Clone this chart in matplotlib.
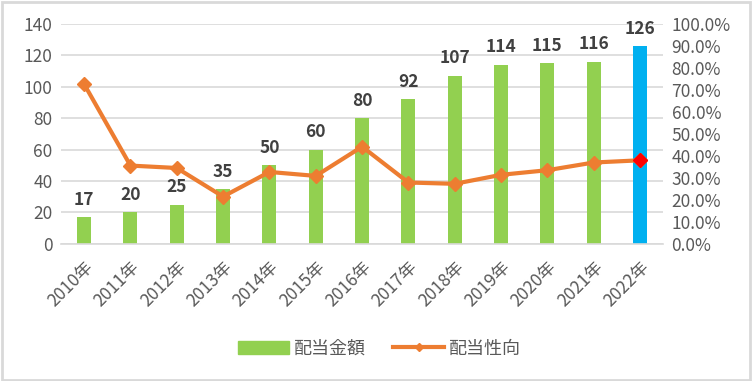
import numpy as np
import matplotlib.pyplot as plt
from matplotlib.lines import Line2D
from matplotlib.patches import Patch

plt.rcParams['font.family'] = ['Noto Sans CJK JP', 'DejaVu Sans']

# データ
years = ["2010年", "2011年", "2012年", "2013年", "2014年", "2015年", "2016年",
         "2017年", "2018年", "2019年", "2020年", "2021年", "2022年"]
dividend = [17, 20, 25, 35, 50, 60, 80, 92, 107, 114, 115, 116, 126]
payout_ratio = [72.7, 35.6, 34.5, 21.5, 32.7, 30.9, 44.2, 27.9, 27.3, 31.4, 33.5, 37.0, 38.0]

green = "#92D050"
blue = "#00B0F0"
orange = "#ED7D31"
gray_text = "#595959"

fig = plt.figure(figsize=(7.52, 3.81), dpi=100)
ax = fig.add_axes([0.081, 0.360, 0.801, 0.577])
ax2 = ax.twinx()

x = np.arange(len(years))
colors = [green] * (len(years) - 1) + [blue]
bars = ax.bar(x, dividend, width=0.3, color=colors, zorder=2)

for xi, v in zip(x, dividend):
    ax.annotate(str(v), (xi, v), xytext=(0, 6), textcoords="offset points",
                ha="center", va="bottom", fontsize=12.5, fontweight="bold",
                color="#404040")

ax.set_ylim(0, 140)
ax.set_yticks(range(0, 141, 20))
ax.set_xlim(-0.5, len(years) - 0.5)
ax.set_xticks(x)
ax.set_xticklabels(years, rotation=45, ha="right", rotation_mode="anchor")
ax.grid(axis="y", color="#D9D9D9", linewidth=1.2, zorder=0)
ax.set_axisbelow(True)
for s in ["top", "right", "left"]:
    ax.spines[s].set_visible(False)
ax.spines["bottom"].set_color("#D9D9D9")
ax.spines["bottom"].set_linewidth(1.2)
ax.tick_params(axis="both", length=0, labelsize=12.5, labelcolor=gray_text, pad=6)
ax.tick_params(axis="x", pad=10)

# 配当性向
ax2.plot(x, payout_ratio, color=orange, linewidth=3, marker="D", markersize=7,
         zorder=3)
ax2.plot(x[-1], payout_ratio[-1], marker="D", markersize=7, color="red",
         linestyle="none", zorder=4)
ax2.set_ylim(0, 100)
ax2.set_yticks(range(0, 101, 10))
ax2.set_yticklabels([f"{t:.1f}%" for t in range(0, 101, 10)])
for s in ax2.spines.values():
    s.set_visible(False)
ax2.tick_params(axis="y", length=0, labelsize=12.5, labelcolor=gray_text, pad=6)

handles = [Patch(color=green),
           Line2D([0], [0], color=orange, linewidth=3, marker="D", markersize=4)]
fig.legend(handles, ["配当金額", "配当性向"], loc="center",
           bbox_to_anchor=(0.505, 0.085), ncol=2, frameon=False,
           fontsize=13, labelcolor=gray_text, handlelength=2.8,
           columnspacing=1.5, handletextpad=0.3)

fig.patches.append(plt.Rectangle((0.002, 0.003), 0.995, 0.993,
                                 transform=fig.transFigure, fill=False,
                                 edgecolor="#D9D9D9", linewidth=2))

fig.savefig("out.png", dpi=100)
